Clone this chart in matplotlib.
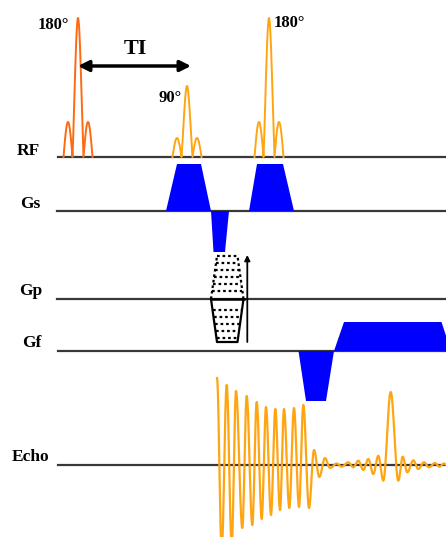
import numpy as np
import matplotlib
matplotlib.use('Agg')
import matplotlib.pyplot as plt

# Datos del diagrama de la secuencia (inversion-recuperacion, spin echo)
etiquetas = ['RF', 'Gs', 'Gp', 'Gf', 'Echo']

# Pulsos RF: centro, altura del lobulo central, altura de lobulos laterales
rf_centro = [78, 187, 269]
rf_alto = [139, 71, 139]
rf_lateral = [35, 19, 35]
rf_textos = ['180°', '90°', '180°']

# Gradiente de seleccion de corte (inicio, subida, meseta, bajada, amplitud)
gs_inicio = [166, 249, 211]
gs_subida = [11, 8, 2.5]
gs_meseta = [24, 26, 11.5]
gs_bajada = [10, 11, 4]
gs_amp = [47, 47, -41]

# Gradiente de frecuencia (desfase + lectura)
gf_inicio = [298.5, 334]
gf_subida = [7.5, 10]
gf_meseta = [20, 97.5]
gf_bajada = [8, 9.5]
gf_amp = [-50, 29]

# Tabla de codificacion de fase
gp_inicio = 211
gp_ancho = 32.5
gp_max = 43
gp_niveles_pos = [43, 36, 29, 22, 15, 8]
gp_niveles_neg = [-11, -18, -25, -32, -39]

# Senal (extremos)
eco_x = [217, 221.7, 226.7, 231.7, 236, 242.3, 246.7, 252.3, 256.7, 261.7,
         266, 271, 275.3, 280, 284, 289.3, 294, 299, 303.3, 309,
         314, 319.3, 325, 330, 336.7, 341.7, 348.3, 353.3, 358.3, 363.3,
         368.3, 373.3, 378.3, 383.3, 390.7, 398.3, 402.7, 407.3, 413.3, 418.3,
         424, 429, 435, 439.3, 444, 448]
eco_amp = [87, -85, 80, -80, 74, -63, 69, -60, 63, -54,
           58, -50, 56, -45, 56, -43, 57, -42, 60, -43,
           15, -12, 7, -3, 1.5, -1.7, 2.7, -2.3, 4.3, -5,
           6, -9, 9.3, -15.7, 73, -15.7, 8.3, -7.3, 4.7, -4,
           2.7, -2.3, 2, -1.7, 1.5, -1.2]

# Posiciones (en pixeles de la figura)
lineas_y = [157, 211, 299, 351, 465]
lineas_x0 = [58, 57, 57, 58, 58]
etiq_x = [28.7, 30, 30.5, 31.7, 31]
etiq_y = [155, 208, 295, 347, 461]

naranja_oscuro = '#FF6A10'
naranja = '#FFA512'
azul = '#0000FF'
fuente = 'Liberation Serif'

fig = plt.figure(figsize=(4.46, 5.37), dpi=100)
ax = fig.add_axes([0, 0, 1, 1])
ax.set_xlim(0, 446)
ax.set_ylim(537, 0)
ax.axis('off')

# Lineas base y etiquetas
for i in range(len(etiquetas)):
    ax.plot([lineas_x0[i], 446], [lineas_y[i], lineas_y[i]], color='#383838', lw=1.6, zorder=1)
    ax.text(etiq_x[i], etiq_y[i], etiquetas[i], ha='center', va='baseline',
            fontsize=12.5, fontweight='bold', family=fuente)

# Pulsos RF tipo sinc
def pulso_rf(xc, alto, lateral, w_c=5.5, w_l=14.5):
    u = np.linspace(-1, 1, 120)
    v = np.linspace(0, 1, 60)
    xs_c = xc + u * w_c
    ys_c = alto * np.sinc(u)
    xs_d = xc + w_c + v * (w_l - w_c)
    ys_d = lateral * np.sin(np.pi * v)
    xs = np.concatenate([xc - xs_d[::-1] + xc - xc, xs_c, xs_d])
    xs[:len(v)] = 2 * xc - xs_d[::-1]
    ys = np.concatenate([ys_d[::-1], ys_c, ys_d])
    return xs, ys

for i in range(len(rf_centro)):
    xs, ys = pulso_rf(rf_centro[i], rf_alto[i], rf_lateral[i])
    color = naranja_oscuro if i == 0 else naranja
    ax.plot(xs, lineas_y[0] - ys, color=color, lw=1.4, zorder=3)

ax.text(53, 29, rf_textos[0], ha='center', va='baseline', fontsize=12, fontweight='bold', family=fuente)
ax.text(170.5, 102.5, rf_textos[1], ha='center', va='baseline', fontsize=12, fontweight='bold', family=fuente)
ax.text(274, 27, rf_textos[2], ha='left', va='baseline', fontsize=12, fontweight='bold', family=fuente)

# TI
ax.annotate('', xy=(78, 66), xytext=(191, 66),
            arrowprops=dict(arrowstyle='<|-|>', lw=2.5, color='black', mutation_scale=16,
                            shrinkA=0, shrinkB=0))
ax.text(135, 54, 'TI', ha='center', va='baseline', fontsize=16, fontweight='bold', family=fuente)

# Gradientes trapezoidales
def trapecio(base, x0, sub, mes, baj, amp):
    xs = [x0, x0 + sub, x0 + sub + mes, x0 + sub + mes + baj]
    ys = [base, base - amp, base - amp, base]
    return xs, ys

for i in range(len(gs_inicio)):
    xs, ys = trapecio(lineas_y[1], gs_inicio[i], gs_subida[i], gs_meseta[i], gs_bajada[i], gs_amp[i])
    ax.fill(xs, ys, color=azul, lw=0, zorder=2)

for i in range(len(gf_inicio)):
    xs, ys = trapecio(lineas_y[3], gf_inicio[i], gf_subida[i], gf_meseta[i], gf_bajada[i], gf_amp[i])
    ax.fill(xs, ys, color=azul, lw=0, zorder=2)

# Tabla de fase
def ancho_fase(a):
    d = 6 * abs(a) / gp_max
    return gp_inicio + d, gp_inicio + gp_ancho - d

base_gp = lineas_y[2]
punteado = (0, (1.2, 1.3))
for a in gp_niveles_pos:
    x1, x2 = ancho_fase(a)
    ax.plot([x1, x2], [base_gp - a, base_gp - a], color='black', lw=1.6, ls=punteado, zorder=3)
for a in gp_niveles_neg:
    x1, x2 = ancho_fase(a)
    ax.plot([x1 + 0.8, x2 - 0.8], [base_gp - a, base_gp - a], color='black', lw=1.6, ls=punteado, zorder=3)

x1, x2 = ancho_fase(gp_max)
ax.plot([gp_inicio, x1], [base_gp, base_gp - gp_max], color='black', lw=1.6, ls=punteado, zorder=3)
ax.plot([gp_inicio + gp_ancho, x2], [base_gp, base_gp - gp_max], color='black', lw=1.6, ls=punteado, zorder=3)
ax.plot([gp_inicio, x1, x2, gp_inicio + gp_ancho],
        [base_gp, base_gp + gp_max, base_gp + gp_max, base_gp], color='black', lw=1.6, zorder=3)
ax.plot([gp_inicio, gp_inicio + gp_ancho], [base_gp, base_gp], color='black', lw=1.8, zorder=3)

ax.annotate('', xy=(247.3, 255), xytext=(247.3, base_gp + gp_max),
            arrowprops=dict(arrowstyle='-|>', lw=1.3, color='black', mutation_scale=8,
                            shrinkA=0, shrinkB=0))

# Senal de eco: medio coseno entre extremos
ex, ey = [], []
for i in range(len(eco_x) - 1):
    s = np.linspace(0, 1, 20)
    ex.append(eco_x[i] + s * (eco_x[i + 1] - eco_x[i]))
    ey.append(eco_amp[i] + (eco_amp[i + 1] - eco_amp[i]) * (1 - np.cos(np.pi * s)) / 2)
ex = np.concatenate(ex)
ey = np.concatenate(ey)
ax.plot(ex, lineas_y[4] - ey, color=naranja, lw=1.6, zorder=3)

plt.savefig('out.png', dpi=100)
